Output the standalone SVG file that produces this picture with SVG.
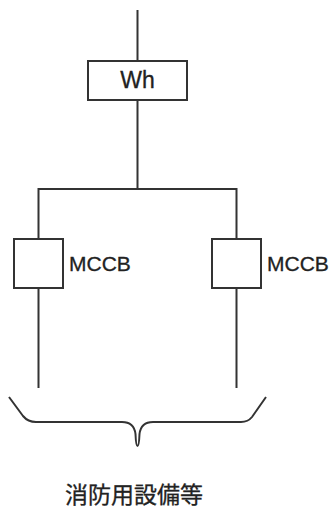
<svg xmlns="http://www.w3.org/2000/svg" width="332" height="508" viewBox="0 0 332 508">
<style>
.l{fill:none;stroke:#333;stroke-width:2}
.b{fill:#fff;stroke:#333;stroke-width:2}
text{font-family:"Liberation Sans","Noto Sans CJK JP",sans-serif;fill:#222;stroke:#222;stroke-width:.3}
</style>
<rect width="332" height="508" fill="#fff"/>
<g id="connectors">
<path class="l" d="M137.5 10V61M137.5 100V189M38.5 239V189H236.5V239M38.5 288V388M236.5 288V388"/>
<path id="brace" class="l" d="M9 397L23 416Q28 422 36 422H122Q134 422 135.500 434Q136 446 137.500 446Q139 446 139.500 434Q141 422 153 422H241Q248 422 252 417L266 397"/>
</g>
<g id="wh"><rect class="b" x="88" y="61" width="99" height="39"/><text x="137.500" y="87.500" font-size="23" text-anchor="middle">Wh</text></g>
<g id="mccb1"><rect class="b" x="14" y="239" width="49" height="49"/><text x="69" y="270.500" font-size="21">MCCB</text></g>
<g id="mccb2"><rect class="b" x="212" y="239" width="49" height="49"/><text x="267" y="270.500" font-size="21">MCCB</text></g>
<g id="label"><text x="134" y="503" font-size="23" text-anchor="middle">消防用設備等</text></g>
</svg>
